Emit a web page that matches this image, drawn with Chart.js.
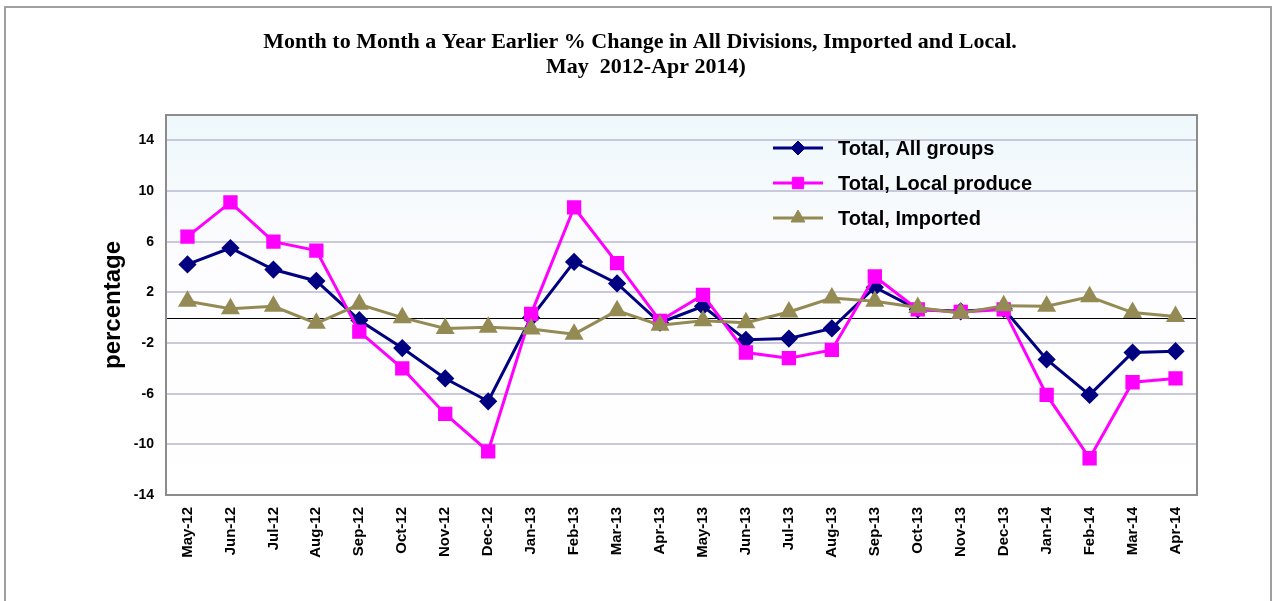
<!DOCTYPE html>
<html>
<head>
<meta charset="utf-8">
<script src="https://cdn.jsdelivr.net/npm/chart.js@4/dist/chart.umd.min.js"></script>
<style>
  body { margin: 0; background: #fff; }
  #wrap { position: relative; width: 1273px; height: 601px; }
</style>
</head>
<body>
<div id="wrap"><canvas id="myChart"></canvas></div>
<script>
const months = ['May-12','Jun-12','Jul-12','Aug-12','Sep-12','Oct-12','Nov-12','Dec-12',
  'Jan-13','Feb-13','Mar-13','Apr-13','May-13','Jun-13','Jul-13','Aug-13','Sep-13','Oct-13',
  'Nov-13','Dec-13','Jan-14','Feb-14','Mar-14','Apr-14'];

const allGroups = [4.2, 5.5, 3.8, 2.9, -0.2, -2.4, -4.8, -6.6, 0.0, 4.4, 2.7, -0.4,
  0.9, -1.75, -1.65, -0.85, 2.4, 0.65, 0.5, 0.7, -3.3, -6.1, -2.75, -2.65];
const localProduce = [6.4, 9.1, 6.0, 5.3, -1.1, -4.0, -7.6, -10.55, 0.3, 8.7, 4.3, -0.25,
  1.8, -2.75, -3.2, -2.55, 3.25, 0.65, 0.45, 0.65, -6.1, -11.1, -5.1, -4.8];
const imported = [1.3, 0.7, 0.9, -0.45, 1.05, 0.0, -0.85, -0.75, -0.9, -1.3, 0.55, -0.6,
  -0.25, -0.4, 0.45, 1.55, 1.3, 0.8, 0.35, 0.95, 0.9, 1.65, 0.4, 0.1];

const yTicks = [-14, -10, -6, -2, 2, 6, 10, 14];
const titleLines = ['Month to Month a Year Earlier % Change in All Divisions, Imported and Local.', 'May  2012-Apr 2014)'];

// frame, title, plot background, box, zero line and legend
const extras = {
  id: 'extras',
  beforeDraw(chart) {
    const ctx = chart.ctx;
    const a = chart.chartArea;
    ctx.save();
    ctx.strokeStyle = '#a0a0a0';
    ctx.lineWidth = 2;
    ctx.beginPath();
    ctx.moveTo(5, 620); ctx.lineTo(5, 7); ctx.lineTo(1271, 7); ctx.lineTo(1271, 620);
    ctx.stroke();
    ctx.fillStyle = '#000';
    ctx.font = 'bold 22px "Liberation Serif", "Times New Roman", serif';
    ctx.textAlign = 'center';
    ctx.textBaseline = 'middle';
    ctx.fillText(titleLines[0], 640, 42);
    ctx.fillText(titleLines[1], 646, 67);
    const g = ctx.createLinearGradient(0, a.top, 0, a.bottom);
    g.addColorStop(0, '#eef8fb');
    g.addColorStop(0.4, '#fdfcfe');
    g.addColorStop(1, '#ffffff');
    ctx.fillStyle = g;
    ctx.fillRect(a.left, a.top, a.right - a.left, a.bottom - a.top);
    ctx.restore();
  },
  beforeDatasetsDraw(chart) {
    const ctx = chart.ctx;
    const a = chart.chartArea;
    const y0 = Math.round(chart.scales.y.getPixelForValue(0)) + 0.5;
    ctx.save();
    ctx.strokeStyle = '#000';
    ctx.lineWidth = 1;
    ctx.beginPath();
    ctx.moveTo(a.left, y0); ctx.lineTo(a.right, y0);
    ctx.stroke();
    ctx.strokeStyle = '#8c8c8c';
    ctx.lineWidth = 2;
    ctx.strokeRect(a.left, a.top, a.right - a.left, a.bottom - a.top);
    ctx.restore();
  },
  afterDraw(chart) {
    const ctx = chart.ctx;
    ctx.save();
    chart.data.datasets.forEach((ds, i) => {
      const y = 148 + i * 35;
      ctx.strokeStyle = ds.borderColor;
      ctx.lineWidth = ds.borderWidth;
      ctx.beginPath();
      ctx.moveTo(773, y); ctx.lineTo(823, y);
      ctx.stroke();
      ctx.fillStyle = ds.pointBackgroundColor;
      ctx.strokeStyle = ds.pointBackgroundColor;
      ctx.lineWidth = 1;
      Chart.helpers.drawPoint(ctx, { pointStyle: ds.pointStyle, radius: ds.pointRadius, borderWidth: 1 }, 798, y);
      ctx.fillStyle = '#000';
      ctx.font = 'bold 20px "Liberation Sans", Arial, sans-serif';
      ctx.textBaseline = 'middle';
      ctx.fillText(ds.label, 838, y + 1);
    });
    ctx.restore();
  }
};

const ctx = document.getElementById('myChart');
new Chart(ctx, {
  type: 'line',
  data: {
    labels: months,
    datasets: [
      {
        label: 'Total, All groups',
        data: allGroups,
        borderColor: '#000080',
        backgroundColor: '#000080',
        pointBackgroundColor: '#000080',
        pointBorderColor: '#000080',
        borderWidth: 3,
        pointStyle: 'rectRot',
        pointRadius: 7,
        order: 3
      },
      {
        label: 'Total, Local produce',
        data: localProduce,
        borderColor: '#ff00ff',
        backgroundColor: '#ff00ff',
        pointBackgroundColor: '#ff00ff',
        pointBorderColor: '#ff00ff',
        borderWidth: 3,
        pointStyle: 'rect',
        pointRadius: 8,
        order: 2
      },
      {
        label: 'Total, Imported',
        data: imported,
        borderColor: '#948a54',
        backgroundColor: '#948a54',
        pointBackgroundColor: '#948a54',
        pointBorderColor: '#948a54',
        borderWidth: 3,
        pointStyle: 'triangle',
        pointRadius: 8,
        order: 1
      }
    ]
  },
  options: {
    responsive: true,
    maintainAspectRatio: false,
    animation: false,
    layout: { padding: { left: 0, right: 76, top: 115, bottom: 0 } },
    elements: { line: { tension: 0 } },
    plugins: {
      legend: { display: false },
      tooltip: { enabled: false },
      title: { display: false }
    },
    scales: {
      x: {
        offset: true,
        grid: { display: false, drawTicks: false },
        border: { display: false },
        ticks: {
          color: '#000',
          maxRotation: 90,
          minRotation: 90,
          autoSkip: false,
          padding: 12,
          font: { family: '"Liberation Sans", Arial, sans-serif', size: 15, weight: 'bold' }
        },
        afterFit(axis) { axis.height = 106; }
      },
      y: {
        min: -14,
        max: 16,
        afterBuildTicks(axis) { axis.ticks = yTicks.map(v => ({ value: v })); },
        grid: {
          drawTicks: false,
          lineWidth: 2,
          color: c => (c.tick && c.tick.value === -14) ? 'rgba(0,0,0,0)' : 'rgba(192,192,212,0.85)'
        },
        border: { display: false },
        ticks: {
          color: '#000',
          padding: 12,
          font: { family: '"Liberation Sans", Arial, sans-serif', size: 14, weight: 'bold' }
        },
        title: {
          display: true,
          text: 'percentage',
          color: '#000',
          font: { family: '"Liberation Sans", Arial, sans-serif', size: 24, weight: 'bold' },
          padding: { top: 99, bottom: 0 }
        },
        afterFit(axis) { axis.width = 166; }
      }
    }
  },
  plugins: [extras]
});
</script>
</body>
</html>
